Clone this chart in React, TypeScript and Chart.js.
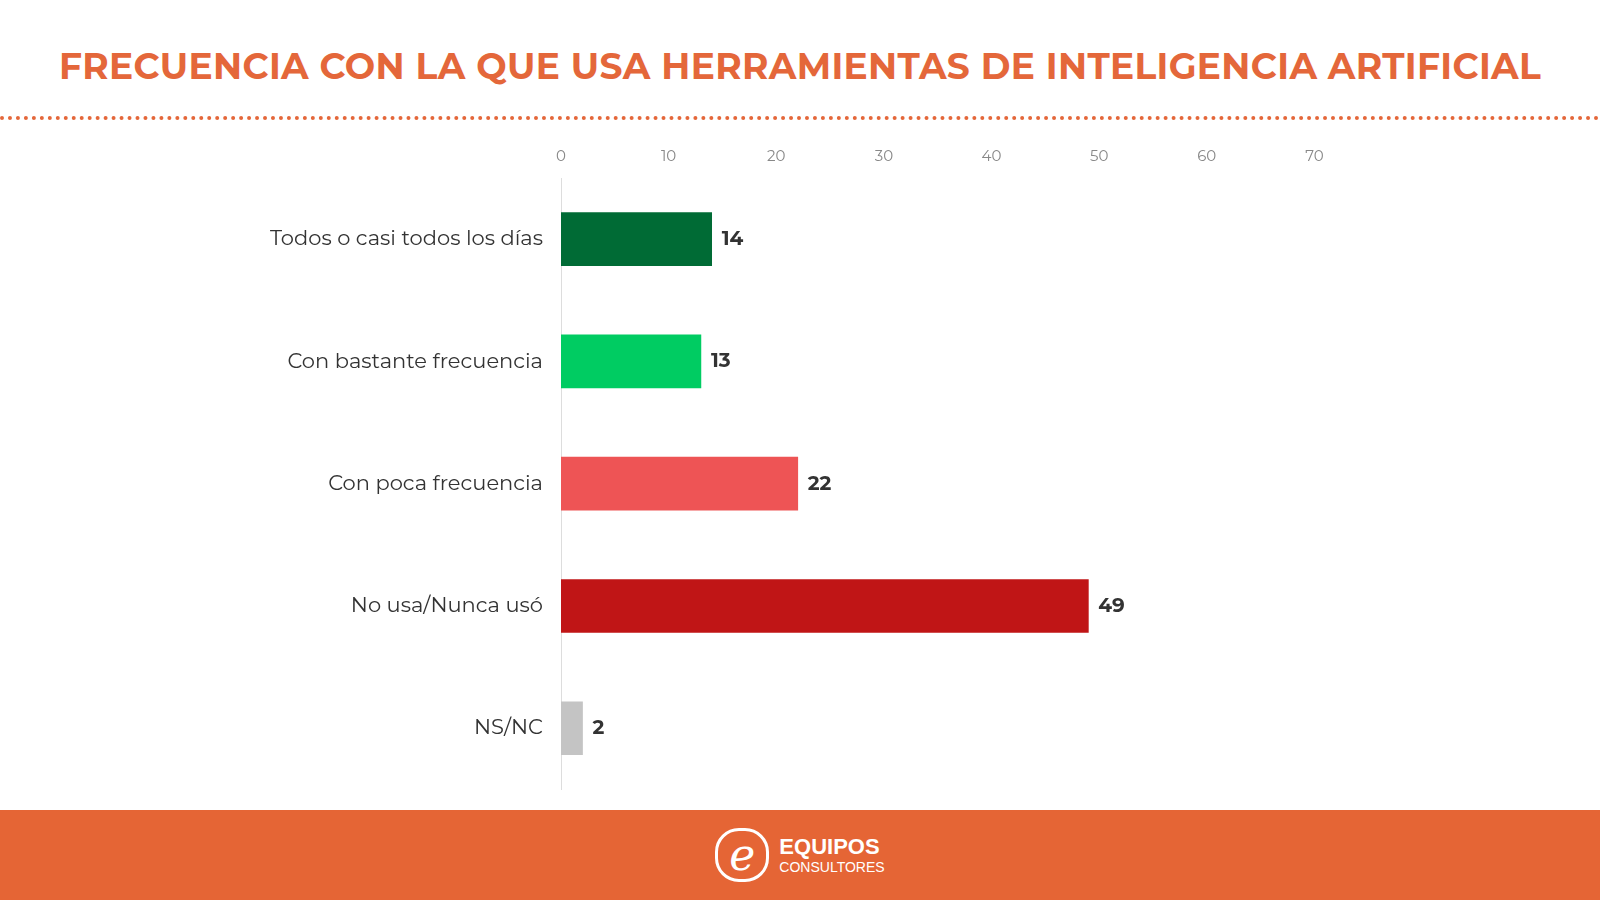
import React, { useEffect, useRef } from "react";
import { Chart, registerables } from "chart.js";
Chart.register(...registerables);

const categories = ["Todos o casi todos los días", "Con bastante frecuencia", "Con poca frecuencia", "No usa/Nunca usó", "NS/NC"];
const values = [14, 13, 22, 49, 2];
const colors = ["#006B35", "#00CC62", "#EE5455", "#C01516", "#C4C4C4"];
const FONT = "Montserrat, 'Open Sans', Lato, sans-serif";

const valueLabels = {
  id: "valueLabels",
  afterDatasetsDraw(chart: any) {
    const ctx = chart.ctx;
    const meta = chart.getDatasetMeta(0);
    ctx.save();
    ctx.font = `bold 20px ${FONT}`;
    ctx.fillStyle = "#333";
    ctx.textBaseline = "middle";
    meta.data.forEach((bar: any, i: number) => {
      ctx.fillText(String(values[i]), bar.x + 10, bar.y);
    });
    ctx.restore();
  },
};

export default function App() {
  const ref = useRef<HTMLCanvasElement>(null);
  useEffect(() => {
    const chart = new Chart(ref.current!, {
      type: "bar",
      data: { labels: categories, datasets: [{ data: values, backgroundColor: colors, barThickness: 53 }] },
      options: {
        indexAxis: "y",
        animation: false,
        responsive: false,
        layout: { padding: { left: 0, right: 178, top: 0, bottom: 0 } },
        plugins: { legend: { display: false }, tooltip: { enabled: false } },
        scales: {
          x: {
            position: "top", min: 0, max: 80,
            grid: { display: false, drawTicks: false },
            border: { display: false },
            ticks: { stepSize: 10, color: "#888", font: { size: 15, family: FONT }, padding: 12,
              callback: (v: any) => (v > 70 ? "" : String(v)) },
          },
          y: {
            grid: { display: false, drawTicks: false },
            border: { display: true, color: "#DDD", width: 1 },
            ticks: { color: "#333", font: { size: 21, family: FONT }, padding: 18 },
            afterFit: (s: any) => { s.width = 561; },
          },
        },
      },
      plugins: [valueLabels],
    });
    return () => chart.destroy();
  }, []);
  return (
    <div style={{ position: "fixed", top: 0, left: 0, width: 1600, height: 900, background: "#fff", overflow: "hidden", fontFamily: FONT }}>
      <div style={{ position: "absolute", top: 44, left: 0, width: 1600, textAlign: "center", color: "#E4673A", fontWeight: 700, fontSize: 36, letterSpacing: 0.35 }}>
        FRECUENCIA CON LA QUE USA HERRAMIENTAS DE INTELIGENCIA ARTIFICIAL
      </div>
      <div style={{ position: "absolute", top: 116, left: 0, width: 1600, borderTop: "4px dotted #E4673A" }} />
      <canvas ref={ref} width={1600} height={684} style={{ position: "absolute", left: 0, top: 136, width: 1600, height: 684 }} />
      <div style={{ position: "absolute", top: 810, left: 0, width: 1600, height: 90, background: "#E56535", display: "flex", alignItems: "center", justifyContent: "center" }}>
        <div style={{ width: 48, height: 48, borderRadius: 24, border: "3px solid #fff", color: "#fff", fontSize: 44, fontStyle: "italic", fontFamily: "'DejaVu Serif', serif", display: "flex", alignItems: "center", justifyContent: "center", lineHeight: 1, marginRight: 10 }}>e</div>
        <div style={{ color: "#fff", fontFamily: "'Liberation Sans', Arial, sans-serif", lineHeight: 1 }}>
          <div style={{ fontWeight: 700, fontSize: 22 }}>EQUIPOS</div>
          <div style={{ fontSize: 14, marginTop: 2 }}>CONSULTORES</div>
        </div>
      </div>
    </div>
  );
}
